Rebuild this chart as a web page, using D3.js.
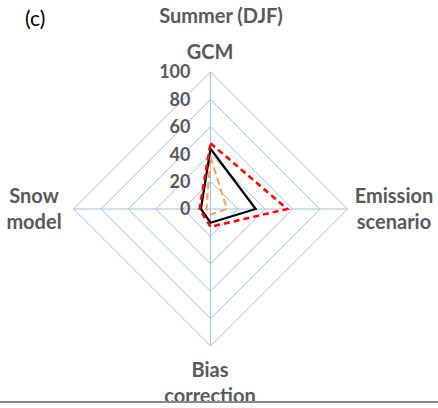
<!DOCTYPE html>
<html>
<head>
  <meta charset="utf-8">
  <title>Summer (DJF) radar</title>
  <script src="https://d3js.org/d3.v7.min.js"></script>
  <style type="text/css">
  html, body {
    margin: 0;
    padding: 0;
    background-color: #fff;
  }
  .grid {
    fill: none;
    stroke: #9dc3e6;
    stroke-width: 1px;
  }
  .spoke {
    stroke: #9dc3e6;
    stroke-width: 1px;
  }
  .tick-label {
    fill: #595959;
    font: bold 18px Lato, sans-serif;
    text-anchor: end;
  }
  .axis-label, .title {
    fill: #595959;
    font: bold 20px Lato, sans-serif;
    text-anchor: middle;
  }
  .series {
    fill: none;
    stroke-linejoin: miter;
  }
  </style>
</head>
<body>
  <div id="chart"></div>
<script>
var width = 438,
    height = 408;

// axes clockwise from the top
var axes = ["GCM", "Emission scenario", "Bias correction", "Snow model"];
var ticks = [0, 20, 40, 60, 80, 100];

// values per axis, same order as axes
var seriesBlack = [44, 33, 10, 7];
var seriesRed = [48, 56, 13, 8];
var seriesOrange = [38, 12, 4, 3];

var series = [
  {name: "orange", values: seriesOrange, color: "#f4a15d", width: 2, dash: "7,4"},
  {name: "black", values: seriesBlack, color: "#000", width: 2.2, dash: null},
  {name: "red", values: seriesRed, color: "#ff0000", width: 2.5, dash: "6,4"}
];

var cx = 210.5,
    cy = 209,
    radius = 137;

var svg = d3.select("#chart").append("svg")
            .attr("width", width)
            .attr("height", height);

var r = d3.scaleLinear()
          .domain([0, 100])
          .range([0, radius]);

var angle = d3.scalePoint()
              .domain(axes)
              .range([0, 2 * Math.PI * (axes.length - 1) / axes.length]);

var g = svg.append("g")
           .attr("transform", "translate(" + cx + "," + cy + ")");

var radial = d3.lineRadial()
               .angle(function(d, i) { return angle(axes[i]); })
               .radius(function(d) { return r(d); })
               .curve(d3.curveLinearClosed);

// grid rings (diamonds)
g.selectAll(".grid")
 .data(ticks.slice(1))
 .enter().append("path")
 .attr("class", "grid")
 .attr("d", function(t) {
   return radial(axes.map(function() { return t; }));
 });

// spokes
g.selectAll(".spoke")
 .data(axes)
 .enter().append("line")
 .attr("class", "spoke")
 .attr("x1", 0).attr("y1", 0)
 .attr("x2", function(a) { return r(100) * Math.sin(angle(a)); })
 .attr("y2", function(a) { return -r(100) * Math.cos(angle(a)); });

// tick labels along the GCM spoke
g.selectAll(".tick-label")
 .data(ticks)
 .enter().append("text")
 .attr("class", "tick-label")
 .attr("x", -20)
 .attr("y", function(t) { return -r(t); })
 .attr("dy", "0.36em")
 .text(function(t) { return t; });

// data polygons
g.selectAll(".series")
 .data(series)
 .enter().append("path")
 .attr("class", "series")
 .attr("d", function(s) { return radial(s.values); })
 .style("stroke", function(s) { return s.color; })
 .style("stroke-width", function(s) { return s.width; })
 .style("stroke-dasharray", function(s) { return s.dash; });

// axis labels
var labelPos = {
  "GCM": {x: 210, y: 59, lines: ["GCM"]},
  "Emission scenario": {x: 394, y: 203, lines: ["Emission", "scenario"]},
  "Bias correction": {x: 210, y: 377, lines: ["Bias", "correction"]},
  "Snow model": {x: 34, y: 203, lines: ["Snow", "model"]}
};

axes.forEach(function(a) {
  var p = labelPos[a];
  var t = svg.append("text")
             .attr("class", "axis-label")
             .attr("x", p.x)
             .attr("y", p.y);
  p.lines.forEach(function(line, i) {
    t.append("tspan")
     .attr("x", p.x)
     .attr("dy", i === 0 ? 0 : 26)
     .text(line);
  });
});

svg.append("text")
   .attr("class", "title")
   .attr("x", 221)
   .attr("y", 23)
   .text("Summer (DJF)");

svg.append("text")
   .attr("x", 25)
   .attr("y", 26)
   .style("font", "21px Lato, sans-serif")
   .style("fill", "#000")
   .text("(c)");

// bottom rule
svg.append("line")
   .attr("x1", 0).attr("x2", width)
   .attr("y1", 402).attr("y2", 402)
   .style("stroke", "#888")
   .style("stroke-width", 2);
</script>
</body>
</html>
